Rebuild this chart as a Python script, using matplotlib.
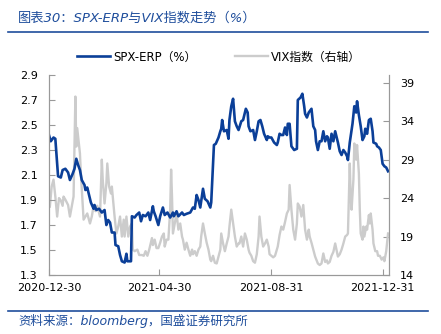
import numpy as np
import pandas as pd
import matplotlib
matplotlib.use('Agg')
import matplotlib.pyplot as plt

plt.rcParams['font.family'] = ['DejaVu Sans', 'Noto Sans CJK SC']

start = pd.Timestamp('2020-12-30')

# SPX-ERP (%), day offsets from 2020-12-30
erp_days = [0, 2, 5, 7, 10, 13, 15, 18, 21, 23, 26, 28, 30, 32, 34, 36, 39, 40, 42, 44,
            46, 49, 50, 52, 55, 58, 61, 63, 65, 67, 69, 72, 73, 76, 78, 80, 83, 85, 86, 90,
            91, 94, 96, 99, 101, 103, 106, 109, 111, 114, 115, 117, 120, 122, 125, 127, 130, 133, 136, 137,
            140, 142, 146, 148, 151, 155, 158, 160, 162, 164, 166, 167, 169, 171, 174, 177, 178, 181, 183, 186,
            188, 189, 190, 192, 195, 197, 198, 200, 202, 204, 206, 208, 211, 213, 216, 218, 219, 221, 224, 226,
            228, 230, 232, 234, 236, 239, 240, 242, 244, 247, 250, 251, 253, 255, 257, 259, 261, 262, 264, 266,
            269, 272, 273, 276, 278, 280, 281, 283, 285, 288, 290, 292, 293, 295, 297, 299, 301, 303, 305, 306,
            308, 310, 312, 314, 316, 317, 319, 321, 323, 325, 327, 328, 330, 331, 333, 335, 337, 338, 340, 342,
            344, 346, 347, 349, 351, 353, 355, 356, 359, 360, 362, 364, 366, 368, 370, 372]
erp_vals = [2.42, 2.37, 2.40, 2.39, 2.09, 2.08, 2.14, 2.15, 2.12, 2.06, 2.11, 2.15, 2.23, 2.18, 2.14, 2.06, 2.02, 1.98, 2.00, 1.94,
            1.88, 1.83, 1.86, 1.82, 1.83, 1.80, 1.82, 1.70, 1.74, 1.72, 1.64, 1.64, 1.54, 1.53, 1.46, 1.41, 1.40, 1.47, 1.41, 1.41,
            1.77, 1.76, 1.78, 1.80, 1.73, 1.78, 1.77, 1.80, 1.74, 1.85, 1.81, 1.77, 1.70, 1.77, 1.84, 1.78, 1.80, 1.76, 1.80, 1.77,
            1.81, 1.77, 1.80, 1.78, 1.79, 1.80, 1.84, 1.83, 1.94, 1.90, 1.84, 1.89, 1.99, 1.91, 1.89, 1.84, 1.88, 2.34, 2.35, 2.40,
            2.45, 2.47, 2.54, 2.45, 2.46, 2.39, 2.54, 2.65, 2.71, 2.53, 2.49, 2.46, 2.53, 2.54, 2.63, 2.60, 2.49, 2.45, 2.46, 2.38,
            2.45, 2.53, 2.54, 2.49, 2.43, 2.38, 2.41, 2.40, 2.40, 2.36, 2.34, 2.36, 2.43, 2.42, 2.42, 2.48, 2.42, 2.51, 2.51, 2.33,
            2.30, 2.31, 2.70, 2.72, 2.75, 2.65, 2.59, 2.56, 2.60, 2.63, 2.49, 2.46, 2.37, 2.30, 2.37, 2.37, 2.45, 2.37, 2.41, 2.40,
            2.31, 2.43, 2.37, 2.45, 2.39, 2.36, 2.29, 2.26, 2.30, 2.28, 2.25, 2.22, 2.36, 2.41, 2.51, 2.65, 2.60, 2.69, 2.58, 2.49,
            2.38, 2.41, 2.47, 2.43, 2.54, 2.55, 2.45, 2.36, 2.35, 2.33, 2.32, 2.30, 2.19, 2.17, 2.16, 2.13]

# VIX index (right axis)
vix_days = [1, 3, 5, 7, 9, 11, 13, 15, 16, 18, 21, 23, 25, 27, 29, 30, 31, 32, 34, 35,
            37, 38, 40, 42, 45, 47, 49, 51, 53, 56, 58, 59, 61, 63, 64, 66, 68, 69, 72, 74,
            76, 78, 80, 82, 83, 85, 87, 89, 91, 92, 94, 97, 99, 102, 104, 106, 108, 110, 113, 114,
            116, 118, 120, 122, 124, 126, 127, 129, 131, 133, 134, 135, 136, 138, 140, 142, 144, 146, 147, 149,
            151, 153, 155, 157, 158, 160, 162, 164, 166, 167, 169, 171, 173, 175, 177, 178, 180, 182, 184, 186,
            188, 189, 191, 193, 195, 197, 198, 200, 202, 204, 206, 208, 209, 211, 213, 215, 217, 219, 220, 222,
            224, 226, 228, 230, 231, 233, 235, 237, 239, 241, 242, 244, 246, 248, 250, 251, 253, 255, 257, 259,
            261, 263, 264, 266, 268, 270, 272, 273, 275, 277, 279, 281, 283, 285, 286, 288, 290, 292, 294, 295,
            297, 299, 301, 303, 305, 306, 308, 310, 312, 314, 316, 317, 319, 321, 323, 325, 327, 328, 330, 331,
            332, 334, 335, 337, 338, 340, 341, 342, 344, 345, 346, 348, 349, 351, 352, 353, 355, 356, 358, 360,
            361, 363, 365, 367, 368, 370, 372]
vix_vals = [22.9, 25.5, 26.4, 24.2, 21.6, 24.0, 23.7, 23.0, 24.2, 23.8, 23.1, 21.6, 22.9, 24.2, 37.2, 30.7, 33.1, 32.0, 29.8, 27.2,
            23.3, 21.2, 21.6, 22.0, 20.7, 21.6, 23.0, 22.3, 23.0, 21.6, 29.0, 26.4, 23.3, 25.9, 28.5, 25.5, 24.6, 25.5, 21.6, 19.4,
            20.3, 21.6, 19.0, 21.2, 19.0, 21.6, 19.0, 20.3, 20.7, 17.3, 17.1, 17.3, 16.6, 16.6, 16.5, 17.1, 16.5, 17.3, 18.8, 17.9,
            18.6, 17.5, 17.5, 18.2, 19.0, 19.4, 17.7, 18.6, 18.6, 22.5, 27.7, 24.2, 19.4, 20.7, 22.0, 19.9, 20.7, 19.0, 18.6, 17.3,
            18.2, 17.3, 16.5, 17.3, 16.7, 17.1, 16.5, 17.3, 17.7, 19.0, 20.7, 19.4, 18.2, 17.3, 16.0, 15.8, 16.5, 15.6, 15.5, 16.4,
            17.3, 19.4, 18.1, 17.1, 18.1, 19.0, 20.3, 22.5, 20.7, 19.0, 17.7, 18.1, 18.1, 19.0, 17.7, 19.4, 18.6, 17.3, 16.9, 16.5,
            15.8, 15.6, 16.7, 19.0, 21.6, 19.0, 17.7, 18.1, 18.6, 17.7, 16.7, 16.5, 16.3, 16.5, 17.3, 17.7, 19.2, 20.3, 19.9, 20.9,
            22.0, 22.5, 25.7, 22.5, 19.9, 18.6, 20.7, 23.3, 22.9, 21.6, 23.1, 19.9, 18.6, 19.9, 19.0, 18.2, 17.3, 16.4, 15.8, 15.5,
            15.3, 15.5, 16.8, 15.7, 15.9, 15.5, 15.7, 16.5, 17.0, 18.1, 17.0, 16.4, 16.7, 17.3, 18.1, 19.0, 19.2, 19.4, 28.5, 24.2,
            22.5, 26.4, 31.1, 29.0, 30.9, 27.2, 22.5, 19.4, 18.6, 20.3, 19.0, 20.3, 19.9, 21.8, 20.7, 22.0, 19.9, 18.1, 17.1, 17.1,
            16.5, 16.5, 16.0, 16.3, 15.8, 17.1, 19.4]

tick_dates = ['2020-12-30', '2021-04-30', '2021-08-31', '2021-12-31']

erp_x = start + pd.to_timedelta(erp_days, unit='D')
vix_x = start + pd.to_timedelta(vix_days, unit='D')

blue = '#0b3f98'
gray = '#cccccc'
spine = '#999999'

fig = plt.figure(figsize=(4.41, 3.34), dpi=100)
ax = fig.add_axes([0.111, 0.1766, 0.771, 0.5988])
ax2 = ax.twinx()

ln2, = ax2.plot(vix_x, vix_vals, color=gray, lw=1.7, label='VIX指数（右轴）')
ln1, = ax.plot(erp_x, erp_vals, color=blue, lw=1.9, label='SPX-ERP（%）')
ax.set_zorder(ax2.get_zorder() + 1)
ax.patch.set_visible(False)

ax.set_xlim(start, pd.Timestamp('2022-01-07'))
ax.set_ylim(1.3, 2.9)
ax.set_yticks(np.arange(1.3, 2.91, 0.2))
ax.yaxis.set_major_formatter(plt.FormatStrFormatter('%.1f'))
ax2.set_ylim(14, 40)
ax2.set_yticks(np.arange(14, 40, 5))

ax.set_xticks(pd.to_datetime(tick_dates))
ax.set_xticklabels(tick_dates)

for a in (ax, ax2):
    a.spines['top'].set_visible(False)
    for s in ('left', 'right', 'bottom'):
        a.spines[s].set_color(spine)
        a.spines[s].set_linewidth(0.8)
    a.tick_params(direction='in', length=4, width=0.8, color=spine,
                  labelsize=8, labelcolor='black')
ax.tick_params(axis='x', pad=6)
ax.tick_params(axis='y', pad=8)
ax2.tick_params(axis='y', pad=8)

fig.legend([ln1, ln2], ['SPX-ERP（%）', 'VIX指数（右轴）'], loc='center',
           bbox_to_anchor=(0.497, 0.829), ncol=2, frameon=False, fontsize=8.5,
           handlelength=2.8, handletextpad=0.3, columnspacing=3.2)

fig.text(0.041, 0.946, '图表30：SPX-ERP与VIX指数走势（%）', color='#1f4e9c',
         fontsize=9.5, style='italic', va='center', ha='left')
fig.add_artist(plt.Line2D([0.018, 0.971], [0.903, 0.903], color='#1f4e9c', lw=1.2))
fig.add_artist(plt.Line2D([0.018, 0.971], [0.070, 0.070], color='#1f4e9c', lw=1.2))
fig.text(0.041, 0.040, '资料来源：bloomberg，国盛证券研究所', color='#1f4e9c',
         fontsize=9, style='italic', va='center', ha='left')

fig.savefig('out.png', dpi=100)
